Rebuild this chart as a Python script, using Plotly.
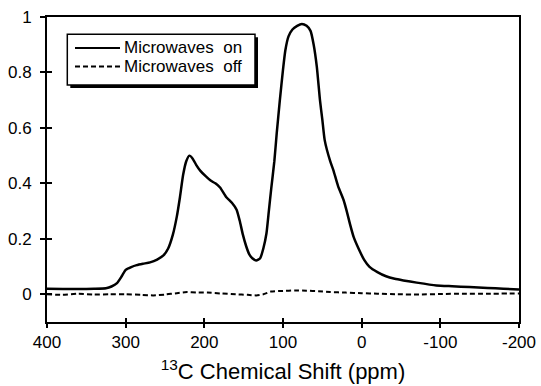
import plotly.graph_objects as go

# --- data ---
ppm_on = [400, 380, 360, 340, 325, 318, 311, 305, 300, 293, 286, 278, 269, 260,
          252, 246, 240, 235, 231, 227, 223, 219, 215, 210, 205, 198, 192, 186,
          180, 172, 165, 159, 155, 151, 147, 143, 139, 134, 129, 125, 121, 118,
          115, 111, 108, 104, 100, 97, 93, 88, 82, 76, 70, 65, 61, 57, 53, 50,
          47, 40, 36, 30, 23, 19, 15, 10, 4, -3, -10, -20, -31, -42, -53, -70,
          -95, -115, -137, -160, -180, -200]
mw_on = [0.020, 0.019, 0.019, 0.020, 0.022, 0.028, 0.040, 0.065, 0.088, 0.098,
         0.105, 0.110, 0.115, 0.125, 0.140, 0.165, 0.215, 0.280, 0.350, 0.430,
         0.480, 0.500, 0.490, 0.465, 0.445, 0.425, 0.410, 0.400, 0.385, 0.350,
         0.330, 0.305, 0.265, 0.215, 0.175, 0.145, 0.130, 0.122, 0.130, 0.165,
         0.220, 0.300, 0.380, 0.480, 0.580, 0.700, 0.810, 0.880, 0.930, 0.955,
         0.968, 0.975, 0.968, 0.950, 0.900, 0.820, 0.700, 0.630, 0.556, 0.480,
         0.448, 0.390, 0.340, 0.300, 0.255, 0.205, 0.165, 0.125, 0.099, 0.080,
         0.065, 0.056, 0.050, 0.042, 0.032, 0.029, 0.026, 0.023, 0.020, 0.017]

ppm_off = [400, 380, 360, 340, 320, 300, 280, 265, 250, 235, 222, 210, 196, 180,
           160, 145, 134, 125, 115, 100, 85, 70, 55, 40, 20, 0, -20, -45, -73,
           -100, -130, -160, -200]
mw_off = [0.000, -0.002, 0.002, -0.001, 0.000, 0.000, -0.002, -0.004, -0.001,
          0.004, 0.008, 0.006, 0.006, 0.003, 0.000, -0.002, -0.004, 0.000,
          0.010, 0.012, 0.014, 0.013, 0.011, 0.008, 0.006, 0.004, 0.002, 0.000,
          -0.001, 0.001, 0.002, 0.002, 0.003]

series_names = ["Microwaves  on", "Microwaves  off"]

x_ticks = [400, 300, 200, 100, 0, -100, -200]
x_labels = ["400", "300", "200", "100", "0", "-100", "-200"]
y_ticks = [0, 0.2, 0.4, 0.6, 0.8, 1]
y_labels = ["0", "0.2", "0.4", "0.6", "0.8", "1"]

FONT = "Liberation Sans, Arial, Helvetica, sans-serif"
styles = [dict(color="black", width=2.5, shape="spline", smoothing=0.5),
          dict(color="black", width=2, dash="5px,3px", shape="spline", smoothing=0.5)]

fig = go.Figure()
fig.add_trace(go.Scatter(x=ppm_on, y=mw_on, mode="lines", name=series_names[0],
                         line=styles[0], showlegend=False))
fig.add_trace(go.Scatter(x=ppm_off, y=mw_off, mode="lines", name=series_names[1],
                         line=styles[1], showlegend=False))

common_x = dict(range=[400, -200], tickvals=x_ticks, showgrid=False, zeroline=False,
                automargin=False)
common_y = dict(range=[-0.1, 1], tickvals=y_ticks, showgrid=False, zeroline=False,
                automargin=False)

# --- hand-drawn legend box (paper coordinates) ---
W, H, L, T = 472.0, 305.0, 47.0, 17.0
def px(xp):
    return (xp - L) / W
def py(yp):
    return 1 - (yp - T) / H

bx0, bx1, by0, by1 = 67.3, 255.0, 34.3, 85.0
shapes = [
    dict(type="rect", xref="paper", yref="paper", x0=px(bx0 + 3), x1=px(bx1 + 3),
         y0=py(by0 + 3), y1=py(by1 + 3), fillcolor="black", line=dict(width=0),
         layer="above"),
    dict(type="rect", xref="paper", yref="paper", x0=px(bx0), x1=px(bx1),
         y0=py(by0), y1=py(by1), fillcolor="white",
         line=dict(color="black", width=1.5), layer="above"),
]
annotations = []
rows_y = [48.0, 66.5]
for i, name in enumerate(series_names):
    ln = dict(color="black", width=2)
    if i == 1:
        ln["dash"] = "5px,3px"
    shapes.append(dict(type="line", xref="paper", yref="paper", x0=px(75), x1=px(120),
                       y0=py(rows_y[i]), y1=py(rows_y[i]), line=ln, layer="above"))
    annotations.append(dict(xref="paper", yref="paper", x=px(122), y=py(rows_y[i]),
                            xanchor="left", yanchor="middle", text=name, showarrow=False,
                            font=dict(family=FONT, size=17, color="black")))

fig.update_layout(
    width=541, height=386,
    margin=dict(l=47, r=22, t=17, b=64, autoexpand=False),
    paper_bgcolor="white", plot_bgcolor="white",
    font=dict(family=FONT, size=17, color="black"),
    xaxis=dict(**common_x, ticktext=x_labels, ticks="outside", ticklen=4, tickwidth=1.5,
               tickcolor="black", showline=True, linecolor="black", linewidth=2,
               mirror=True, tickfont=dict(size=17),
               title=dict(text="<sup>13</sup>C Chemical Shift (ppm)",
                          font=dict(size=22), standoff=12)),
    yaxis=dict(**common_y, ticktext=y_labels, ticks="outside", ticklabelstandoff=5,
               ticklen=5, tickwidth=1.5, tickcolor="black", showline=True,
               linecolor="black", linewidth=2, mirror=True, tickfont=dict(size=17)),
    xaxis2=dict(**common_x, overlaying="x", anchor="y", side="bottom", ticks="inside",
                ticklen=4, tickwidth=1.5, tickcolor="black", showticklabels=False,
                showline=False),
    yaxis2=dict(**common_y, overlaying="y", anchor="x", side="left", ticks="inside",
                ticklen=5, tickwidth=1.5, tickcolor="black", showticklabels=False,
                showline=False),
    shapes=shapes,
    annotations=annotations,
    showlegend=False,
)
# invisible trace so the overlay (inside-tick) axes are drawn
fig.add_trace(go.Scatter(x=[None], y=[None], xaxis="x2", yaxis="y2",
                         showlegend=False, hoverinfo="skip"))

fig.write_html("out.html")
